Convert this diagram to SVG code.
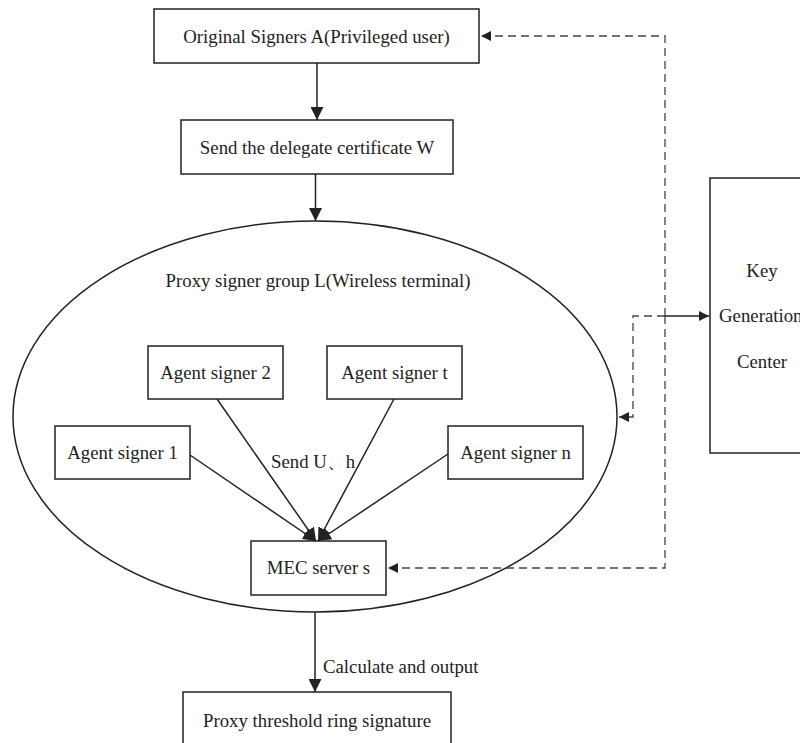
<svg xmlns="http://www.w3.org/2000/svg" width="800" height="743" viewBox="0 0 800 743">
<style>
.box{fill:#fff;stroke:#222;stroke-width:1.5}
.t{font-family:"Liberation Serif","Times New Roman",serif;font-size:18.8px;fill:#222}
.c{text-anchor:middle}
.ln{stroke:#222;stroke-width:1.5;fill:none}
.ds{stroke:#444;stroke-width:1.3;fill:none;stroke-dasharray:8,5}
</style>
<defs>
<marker id="ah" viewBox="0 0 10 10" refX="10" refY="5" markerWidth="10" markerHeight="10" markerUnits="userSpaceOnUse" orient="auto">
<path d="M0,0 L10,5 L0,10 z" fill="#222"/>
</marker>
<marker id="ahb" viewBox="0 0 10 10" refX="10" refY="5" markerWidth="13" markerHeight="13" markerUnits="userSpaceOnUse" orient="auto">
<path d="M0,0 L10,5 L0,10 z" fill="#222"/>
</marker>
</defs>
<rect width="800" height="743" fill="#fff"/>
<g id="group-ellipse">
<ellipse cx="315" cy="416.5" rx="302" ry="195.5" class="ln"/>
<text class="t c" x="318" y="287">Proxy signer group L(Wireless terminal)</text>
</g>
<g id="connectors">
<line class="ln" x1="317" y1="63" x2="317" y2="120" marker-end="url(#ahb)"/>
<line class="ln" x1="315.5" y1="174" x2="315.5" y2="221" marker-end="url(#ahb)"/>
<line class="ln" x1="190" y1="455" x2="316" y2="541" marker-end="url(#ahb)"/>
<line class="ln" x1="217" y1="399" x2="316" y2="541" marker-end="url(#ahb)"/>
<line class="ln" x1="394" y1="399" x2="318" y2="541" marker-end="url(#ahb)"/>
<line class="ln" x1="448" y1="454" x2="318" y2="541" marker-end="url(#ahb)"/>
<line class="ln" x1="315" y1="612" x2="315" y2="692" marker-end="url(#ahb)"/>
<path class="ds" d="M665,316 L665,36 L481,36" marker-end="url(#ah)"/>
<path class="ds" d="M665,316 L665,568 L388,568" marker-end="url(#ah)"/>
<line class="ln" x1="665" y1="316" x2="709" y2="316" stroke-width="1.3" marker-end="url(#ah)"/>
<path class="ds" d="M665,316 L633,316 L633,417 L619,417" marker-end="url(#ah)"/>
<text class="t" x="271" y="468">Send U、h</text>
<text class="t" x="323" y="673">Calculate and output</text>
</g>
<g id="original-signers">
<rect class="box" x="154" y="9" width="325" height="54"/>
<text class="t c" x="316.5" y="43">Original Signers A(Privileged user)</text>
</g>
<g id="delegate-certificate">
<rect class="box" x="181" y="120" width="272" height="54"/>
<text class="t c" x="317" y="154">Send the delegate certificate W</text>
</g>
<g id="agent-signer-2">
<rect class="box" x="148" y="346" width="135" height="53"/>
<text class="t c" x="215.5" y="379">Agent signer 2</text>
</g>
<g id="agent-signer-t">
<rect class="box" x="327" y="346" width="135" height="53"/>
<text class="t c" x="394.5" y="379">Agent signer t</text>
</g>
<g id="agent-signer-1">
<rect class="box" x="55" y="426" width="135" height="53"/>
<text class="t c" x="122.5" y="459">Agent signer 1</text>
</g>
<g id="agent-signer-n">
<rect class="box" x="448" y="426" width="135" height="53"/>
<text class="t c" x="515.5" y="459">Agent signer n</text>
</g>
<g id="mec-server">
<rect class="box" x="251" y="541" width="135" height="54"/>
<text class="t c" x="318.5" y="574">MEC server s</text>
</g>
<g id="proxy-signature">
<rect class="box" x="183" y="692" width="268" height="56"/>
<text class="t c" x="317" y="727">Proxy threshold ring signature</text>
</g>
<g id="key-generation-center">
<rect class="box" x="710" y="178" width="100" height="275"/>
<text class="t c" x="762" y="277">Key</text>
<text class="t" x="719" y="322">Generation</text>
<text class="t c" x="762" y="368">Center</text>
</g>
</svg>
